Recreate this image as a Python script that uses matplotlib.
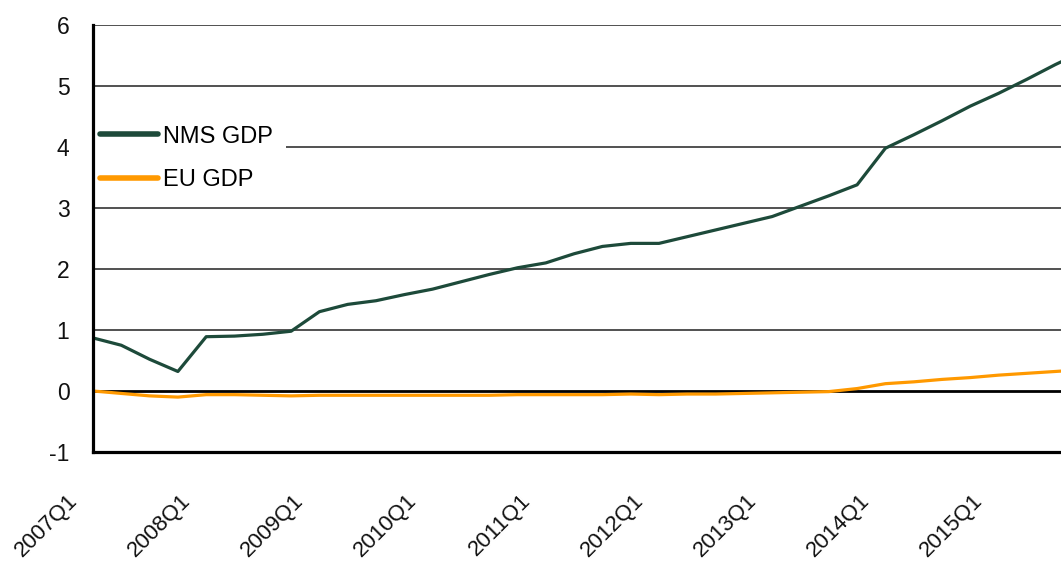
import matplotlib
matplotlib.use("Agg")
import matplotlib.pyplot as plt
from matplotlib.transforms import ScaledTranslation, blended_transform_factory

quarters = [f"{y}Q{q}" for y in range(2007, 2016) for q in range(1, 5)]

nms_gdp = [0.87, 0.75, 0.52, 0.32, 0.89, 0.90, 0.93, 0.98, 1.30, 1.42,
           1.48, 1.58, 1.67, 1.79, 1.91, 2.02, 2.10, 2.25, 2.37, 2.42,
           2.42, 2.53, 2.64, 2.75, 2.86, 3.03, 3.20, 3.38, 3.98, 4.20,
           4.43, 4.67, 4.88, 5.11, 5.35, 5.57]

eu_gdp = [0.00, -0.04, -0.08, -0.10, -0.06, -0.06, -0.07, -0.08, -0.07, -0.07,
          -0.07, -0.07, -0.07, -0.07, -0.07, -0.06, -0.06, -0.06, -0.06, -0.05,
          -0.06, -0.05, -0.05, -0.04, -0.03, -0.02, -0.01, 0.04, 0.12, 0.15,
          0.19, 0.22, 0.26, 0.29, 0.32, 0.35]

tick_labels = ["2007Q1", "2008Q1", "2009Q1", "2010Q1", "2011Q1",
               "2012Q1", "2013Q1", "2014Q1", "2015Q1"]
y_ticks = [-1, 0, 1, 2, 3, 4, 5, 6]

plt.rcParams['font.family'] = ['Liberation Sans', 'DejaVu Sans']

W, H = 1061, 561
fig = plt.figure(figsize=(W / 100, H / 100), dpi=100)
left, right, top, bottom = 93, 1061, 25, 452
ax = fig.add_axes([left / W, 1 - bottom / H, (right - left) / W, (bottom - top) / H])

x = list(range(len(quarters)))
step = 28.3
ax.set_xlim(0, (right - left) / step)
ax.set_ylim(-1, 6)

for v in y_ticks:
    if v == 0:
        ax.axhline(v, color='black', lw=2.0, zorder=1)
    elif v != -1:
        ax.axhline(v, color='#222222', lw=1.1, zorder=1)

ax.plot(x, nms_gdp, color='#1d4a3a', lw=2.3, label='NMS GDP', zorder=3,
        solid_joinstyle='round')
ax.plot(x, eu_gdp, color='#ff9900', lw=2.3, label='EU GDP', zorder=3,
        solid_joinstyle='round')

for s in ['top', 'right']:
    ax.spines[s].set_visible(False)
for s in ['left', 'bottom']:
    ax.spines[s].set_linewidth(2.3)
    ax.spines[s].set_color('black')
    ax.spines[s].set_zorder(6)

ax.set_yticks(y_ticks)
ax.set_yticklabels([str(v) for v in y_ticks], fontsize=16.5, color='#111111')
ax.tick_params(axis='y', length=0, pad=17)

# x tick labels as rotated texts at the quarter positions
tick_pos = [quarters.index(t) for t in tick_labels]
ax.set_xticks(tick_pos)
ax.set_xticklabels([])
ax.tick_params(axis='x', length=0)
trans = blended_transform_factory(ax.transData, ax.transAxes) + \
    ScaledTranslation(-26 / 100, -38 / 100, fig.dpi_scale_trans)
for p, t in zip(tick_pos, tick_labels):
    ax.text(p, 0, t, transform=trans, rotation=45, ha='right', va='top',
            rotation_mode='anchor', fontsize=16, color='#111111', clip_on=False)

leg = ax.legend(loc='upper left', bbox_to_anchor=(-0.006, 0.795), fontsize=17,
                frameon=True, facecolor='white', edgecolor='none', framealpha=1,
                handlelength=2.46, handletextpad=0.21, labelspacing=0.93,
                borderpad=0.55, borderaxespad=0.0, fancybox=False)
for line in leg.get_lines():
    line.set_linewidth(4)
    line.set_solid_capstyle('round')
leg.set_zorder(5)

fig.savefig("out.png", dpi=100)
